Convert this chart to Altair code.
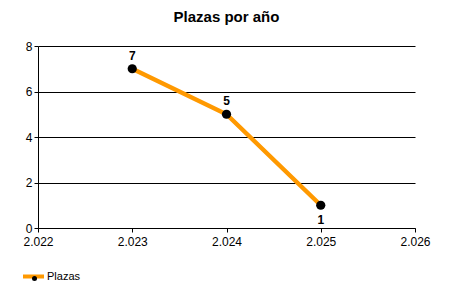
import altair as alt
import pandas as pd

years = [2023, 2024, 2025]
plazas = [7, 5, 1]
label_pos = ["above", "above", "below"]
series = ["Plazas", "Plazas", "Plazas"]

df = pd.DataFrame({"year": years, "plazas": plazas, "pos": label_pos, "serie": series})

FONT = "Liberation Sans"
ORANGE = "#FF9900"

x = alt.X("year:Q", scale=alt.Scale(domain=[2022, 2026], nice=False, zero=False),
          axis=alt.Axis(values=[2022, 2023, 2024, 2025, 2026], title=None, grid=False,
                        labelExpr="replace(format(datum.value, ','), ',', '.')",
                        domainColor="black", tickColor="black", tickSize=4,
                        labelFont=FONT, labelFontSize=12, labelColor="black",
                        labelPadding=4, labelFlush=False))
y = alt.Y("plazas:Q", scale=alt.Scale(domain=[0, 8], nice=False),
          axis=alt.Axis(values=[0, 2, 4, 6, 8], title=None, grid=True, gridColor="black",
                        gridOpacity=1, domainColor="black", tickColor="black", tickSize=4,
                        labelFont=FONT, labelFontSize=12, labelColor="black", labelPadding=2))

base = alt.Chart(df)

line = base.mark_line(strokeWidth=4.5).encode(
    x=x, y=y,
    color=alt.Color("serie:N", scale=alt.Scale(range=[ORANGE]),
                    legend=alt.Legend(title=None, orient="none", legendX=-17, legendY=218,
                                      symbolType="stroke", symbolSize=441, symbolStrokeWidth=4,
                                      labelFont=FONT, labelFontSize=11, labelColor="black",
                                      labelOffset=1)),
)

points = base.mark_circle(size=85, opacity=1).encode(
    x=x, y=y,
    fill=alt.Fill("serie:N", scale=alt.Scale(range=["black"]),
                  legend=alt.Legend(title=None, orient="none", legendX=-9, legendY=227,
                                    symbolType="circle", symbolSize=25, symbolStrokeWidth=0,
                                    symbolOpacity=1, labelExpr="''",
                                    labelFont=FONT, labelFontSize=11, labelColor="transparent",
                                    labelOffset=0)),
)

above = base.transform_filter(alt.datum.pos == "above").mark_text(
    font=FONT, fontSize=12, fontWeight="bold", color="black", dy=-13
).encode(x=x, y=y, text="plazas:Q")

below = base.transform_filter(alt.datum.pos == "below").mark_text(
    font=FONT, fontSize=12, fontWeight="bold", color="black", dy=15
).encode(x=x, y=y, text="plazas:Q")

chart = alt.layer(line, points, above, below).resolve_scale(color="independent", fill="independent").properties(
    width=377, height=182,
    title=alt.TitleParams("Plazas por año", font=FONT, fontSize=15, fontWeight="bold",
                          color="black", anchor="middle", offset=15),
    autosize=alt.AutoSizeParams(type="none"),
    padding={"left": 38, "top": 46, "right": 35, "bottom": 72},
).configure_view(stroke=None).configure_legend(padding=0)

chart.save("out.html", embed_options={"renderer": "svg", "actions": False})
